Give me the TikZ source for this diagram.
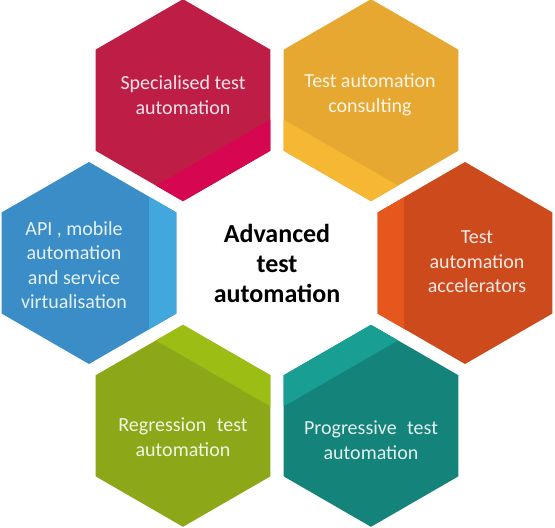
\documentclass[tikz,border=0pt]{standalone}
\usepackage{fontspec}
\setmainfont{Carlito}
\definecolor{redM}{RGB}{190,30,70}
\definecolor{redB}{RGB}{214,6,80}
\definecolor{oraM}{RGB}{231,168,50}
\definecolor{oraB}{RGB}{246,183,50}
\definecolor{bluM}{RGB}{58,141,198}
\definecolor{bluB}{RGB}{66,167,221}
\definecolor{rorM}{RGB}{205,74,28}
\definecolor{rorB}{RGB}{230,87,30}
\definecolor{grnM}{RGB}{140,168,25}
\definecolor{grnB}{RGB}{156,190,20}
\definecolor{telM}{RGB}{20,132,122}
\definecolor{telB}{RGB}{25,158,148}
\newcommand{\hexpath}{(30:101) -- (90:101) -- (150:101) -- (210:101) -- (270:101) -- (330:101) -- cycle}
\newcommand{\hexcell}[3]{%
  \begin{scope}[shift={(#1:188)}]
    \fill[#2] \hexpath;
    \begin{scope}
      \clip \hexpath;
      \fill[#3, rotate=#1+180] (60.5,-130) rectangle (130,130);
    \end{scope}
  \end{scope}}
\begin{document}
\begin{tikzpicture}[x=1pt,y=1pt,
  hextext/.style={align=center, font=\fontsize{20}{24.5}\selectfont, inner sep=0pt},
  centertext/.style={align=center, font=\fontsize{26}{30}\selectfont\bfseries, text=black, inner sep=0pt}]
\useasboundingbox (-277,-265) rectangle (278,263);
\hexcell{120}{redM}{redB}
\hexcell{60}{oraM}{oraB}
\hexcell{180}{bluM}{bluB}
\hexcell{0}{rorM}{rorB}
\hexcell{240}{grnM}{grnB}
\hexcell{300}{telM}{telB}
\node[hextext, text=white!88!redM] (t1) at (-94,168) {Specialised test\\automation};
\node[hextext, text=white!88!oraM] (t2) at (93,168) {Test automation\\consulting};
\node[hextext, text=white!88!bluM] (t3) at (-203,-2) {API , mobile\\automation\\and service\\virtualisation};
\node[hextext, text=white!88!rorM] (t4) at (200,1) {Test\\automation\\accelerators};
\node[hextext, text=white!88!grnM] (t5) at (-94,-174) {Regression\hspace{0.3em} test\\automation};
\node[hextext, text=white!88!telM] (t6) at (94,-177) {Progressive\hspace{0.3em} test\\automation};
\node[centertext] (c) at (0,0) {Advanced\\test\\automation};
\end{tikzpicture}
\end{document}
